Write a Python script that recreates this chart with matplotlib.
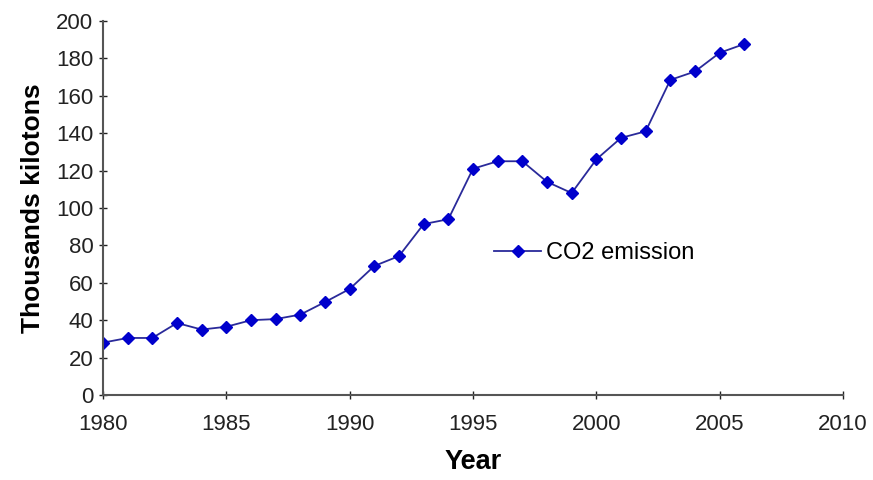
import matplotlib

matplotlib.use("Agg")
import matplotlib.pyplot as plt

years = list(range(1980, 2007))
co2 = [28, 30.5, 30.5, 38.5, 35, 36.5, 40, 40.6, 43, 49.7, 56.7, 69, 74.3, 91.4, 94,
       121, 125, 125, 114, 108, 126, 137.5, 141, 168.5, 173, 183, 187.7]
xticks = [1980, 1985, 1990, 1995, 2000, 2005, 2010]
yticks = list(range(0, 201, 20))

plt.rcParams["font.family"] = ["Liberation Sans", "DejaVu Sans"]

fig = plt.figure(figsize=(8.73, 4.8), dpi=100)
ax = fig.add_axes([103 / 873, 1 - 395 / 480, 740 / 873, 374 / 480])
ax.plot(years, co2, color="#2a2a9a", linewidth=1.3, marker="D", markersize=6,
        markerfacecolor="#0000cc", markeredgecolor="#0000cc", label="CO2 emission")
ax.set_xlim(1980, 2010)
ax.set_ylim(0, 200)
ax.set_xticks(xticks)
ax.set_yticks(yticks)
ax.tick_params(labelsize=16, direction="inout", length=6, width=1, colors="#222222")
ax.tick_params(axis="x", pad=11)
ax.tick_params(axis="y", pad=4)
for side in ("top", "right"):
    ax.spines[side].set_visible(False)
for side in ("left", "bottom"):
    ax.spines[side].set_color("#555555")
    ax.spines[side].set_linewidth(1.5)
ax.set_xlabel("Year", fontsize=19.5, fontweight="bold", labelpad=10)
ax.set_ylabel("Thousands kilotons", fontsize=19, fontweight="bold", labelpad=8)
ax.legend(loc="center left", bbox_to_anchor=(0.5, 0.38), frameon=False, fontsize=17,
          handlelength=2.0, handletextpad=0.2)
fig.savefig("out.png", dpi=100)
